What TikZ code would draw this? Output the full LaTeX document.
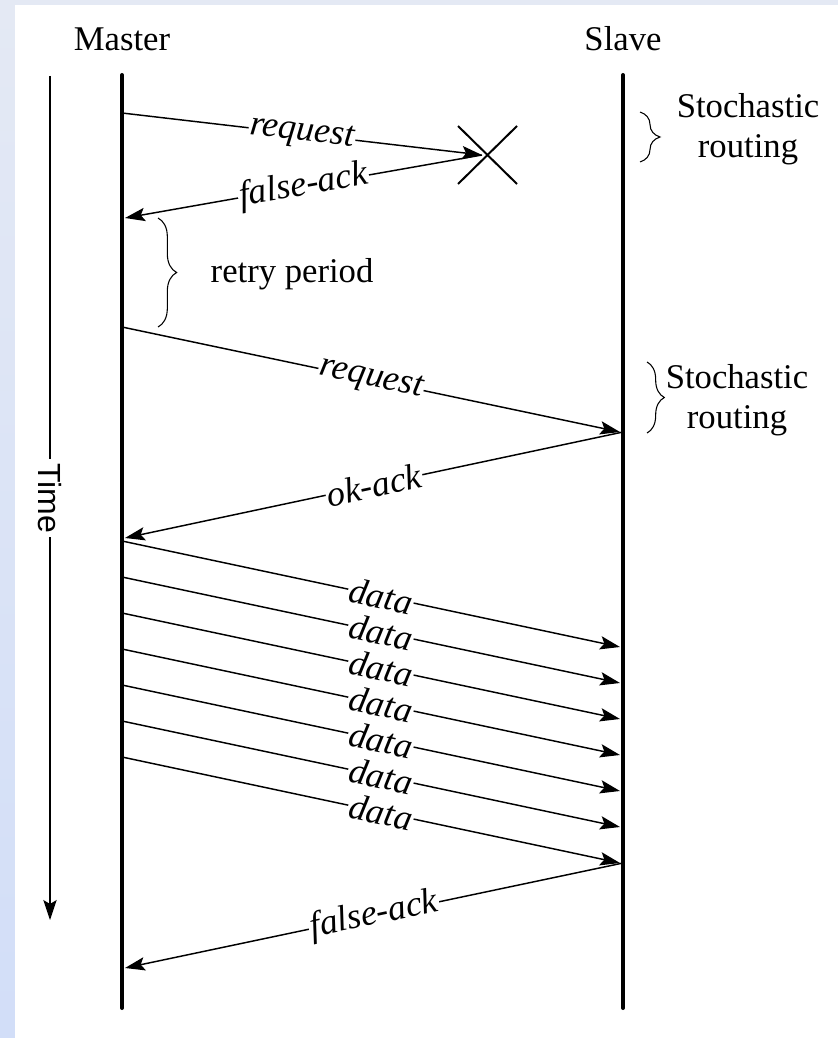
\documentclass[tikz,border=0pt]{standalone}
\usepackage{fontspec}
\setmainfont{Liberation Serif}[ItalicFont={Liberation Serif Italic}]
\setsansfont{Liberation Sans}
\usetikzlibrary{arrows.meta,decorations.pathreplacing}
\definecolor{frameblue}{HTML}{D2DEF8}
\definecolor{frametop}{HTML}{E4E9F4}

\begin{document}
\begin{tikzpicture}[
    x=0.75pt, y=-0.75pt,
    lifeline/.style={line width=3pt, line cap=round},
    msg/.style={-{Stealth[length=15pt, width=10pt, inset=3pt]}, line width=1.1pt},
    lbl/.style={sloped, fill=white, inner sep=1pt, font=\itshape\fontsize{27}{27}\selectfont},
    actor/.style={anchor=base, font=\fontsize{26}{30}\selectfont},
    note/.style={align=center, inner sep=0pt, font=\fontsize{26}{30}\selectfont},
    curly/.style={decorate, decoration={brace, amplitude=#1}, line width=0.8pt}
  ]
    \useasboundingbox (0,0) rectangle (838,1038);
    \fill[top color=frametop, bottom color=frameblue] (0,0) rectangle (838,1038);
    \fill[white] (15,5) rectangle (838,1038);

    \node[actor] (master) at (122,51) {Master};
    \node[actor] (slave) at (623,51) {Slave};
    \coordinate (mtop) at (122,75);
    \coordinate (mbot) at (122,1008);
    \coordinate (stop) at (623,75);
    \coordinate (sbot) at (623,1008);
    \draw[lifeline] (mtop) -- (mbot);
    \draw[lifeline] (stop) -- (sbot);

    \coordinate (ttop) at (50,76);
    \coordinate (tbot) at (50,920);
    \draw[msg] (ttop) -- node[fill=white, rotate=-90, inner sep=3pt, font=\sffamily\fontsize{24}{24}\selectfont] {Time} (tbot);

    % lost request
    \coordinate (req1) at (122,113);
    \coordinate (lost) at (482,155);
    \coordinate (nak1) at (125,218);
    \draw[line width=1.5pt] (458,126) -- (517,184) (458,184) -- (517,126);
    \draw[msg] (req1) -- node[lbl] {request} (lost);
    \draw[msg] (lost) -- node[lbl] {false-ack} (nak1);
    \draw[curly=15pt] (640,112) -- (640,162);
    \node[note] (route1) at (748,129) {Stochastic\\routing};

    \draw[curly=14pt] (158,218) -- (158,327);
    \node[anchor=base west, font=\fontsize{26}{30}\selectfont] (retry) at (206,282) {retry period};

    % second request
    \coordinate (req2) at (122,327);
    \coordinate (arr2) at (620,432);
    \coordinate (ok) at (623,432);
    \coordinate (okm) at (125,538);
    \draw[msg] (req2) -- node[lbl] {request} (arr2);
    \draw[msg] (ok) -- node[lbl] {ok-ack} (okm);
    \draw[curly=13pt] (647,362) -- (647,433);
    \node[note] (route2) at (737,400) {Stochastic\\routing};

    % data burst
    \foreach \k in {0,...,6} {
      \coordinate (d\k) at (122,541+36*\k);
      \coordinate (e\k) at (620,647+36*\k);
      \draw[msg] (d\k) -- node[lbl, pos=0.52] {data} (e\k);
    }

    \coordinate (nak2s) at (623,863);
    \coordinate (nak2) at (125,968);
    \draw[msg] (nak2s) -- node[lbl] {false-ack} (nak2);
  \end{tikzpicture}
\end{document}
